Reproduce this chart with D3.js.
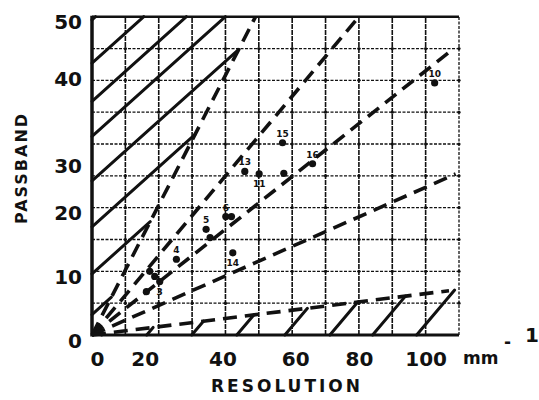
<!DOCTYPE html>
<html>
<head>
<meta charset="utf-8">
<script src="https://cdn.jsdelivr.net/npm/d3@7"></script>
<style>
  body { margin: 0; background: #fff; }
  text { font-family: "DejaVu Sans", sans-serif; font-weight: bold; fill: #111; }
</style>
</head>
<body>
<div class="canvas"></div>
<script>
// tick labels
const xTicks = [0, 20, 40, 60, 80, 100];
const yTicks = [0, 10, 20, 30, 40, 50];
const xGrid = [10, 20, 30, 40, 50, 60, 70, 80, 90, 100];
const yGrid = [5, 10, 15, 20, 25, 30, 35, 40, 45];

// dashed lines through the origin: slope and where each one stops (resolution)
const dashSlopes = [1.02, 0.625, 0.415, 0.232, 0.065];
const dashEnds = [49, 80, 108, 109, 107];

// solid hatching, upper left (passband intercepts) and lower right (resolution starts)
const upperHatch = [49.5, 42.7, 36.7, 31.2, 24.2, 17.0, 9.6, 3.2];
const upperSlope = 0.47;
const lowerHatch = [2.9, 16.4, 29.9, 43.4, 57.8, 71.3, 84.1, 97.3];
const lowerSlope = 0.62;

// measured points
const pointRes = [102.7, 57.1, 66.1, 45.8, 50.1, 57.5, 40.1, 41.8, 42.2, 34.2, 35.4, 25.3, 17.3, 18.8, 20.3, 16.3];
const pointPass = [39.6, 30.2, 26.9, 25.7, 25.3, 25.4, 18.6, 18.6, 12.9, 16.6, 15.3, 11.9, 10.0, 9.2, 8.4, 6.8];
const pointLabels = ['10', '15', '16', '13', '11', '', '6', '', '14', '5', '', '4', '', '', '3', ''];

const width = 539, height = 400;
const margin = { top: 16.7, right: 80, bottom: 65, left: 92 };

const svg = d3.select('.canvas')
  .append('svg')
  .attr('width', width)
  .attr('height', height);

const x = d3.scaleLinear().domain([0, 110]).range([margin.left, width - margin.right]);
const y = d3.scaleLinear().domain([0, 50]).range([height - margin.bottom, margin.top]);

const ink = '#111';

// grid
const grid = svg.append('g');
grid.selectAll('.vg')
  .data(xGrid)
  .enter().append('line')
  .attr('x1', d => x(d)).attr('x2', d => x(d))
  .attr('y1', y(0)).attr('y2', y(50))
  .attr('stroke', ink)
  .attr('stroke-width', 1.6)
  .attr('stroke-dasharray', '5,1');

grid.selectAll('.hg')
  .data(yGrid)
  .enter().append('line')
  .attr('x1', x(0)).attr('x2', x(110))
  .attr('y1', d => y(d)).attr('y2', d => y(d))
  .attr('stroke', ink)
  .attr('stroke-width', 1.3)
  .attr('stroke-dasharray', '3,1.5');

// little crosses at grid intersections
const nodes = [];
xGrid.concat([110]).forEach(a => yGrid.forEach(b => nodes.push([a, b])));
grid.selectAll('.node')
  .data(nodes)
  .enter().append('circle')
  .attr('cx', d => x(d[0])).attr('cy', d => y(d[1]))
  .attr('r', 1.6)
  .attr('fill', ink);

// frame
svg.append('line')
  .attr('x1', x(110)).attr('x2', x(110)).attr('y1', y(0)).attr('y2', y(50))
  .attr('stroke', ink).attr('stroke-width', 1.3).attr('stroke-dasharray', '3,1.5');
svg.append('line')
  .attr('x1', x(0)).attr('x2', x(110)).attr('y1', y(50)).attr('y2', y(50))
  .attr('stroke', ink).attr('stroke-width', 2.5);
svg.append('line')
  .attr('x1', x(0)).attr('x2', x(110)).attr('y1', y(0)).attr('y2', y(0))
  .attr('stroke', ink).attr('stroke-width', 3.2);
svg.append('line')
  .attr('x1', x(0)).attr('x2', x(0)).attr('y1', y(0) + 1.5).attr('y2', y(50) - 1)
  .attr('stroke', ink).attr('stroke-width', 3.5);

// upper hatching, stopped by the top edge or the steepest dashed line
const steep = dashSlopes[0];
const hatch = svg.append('g')
  .attr('stroke', ink)
  .attr('stroke-width', 3)
  .attr('stroke-linecap', 'round');

const upperEnd = c => Math.min((50 - c) / upperSlope, c / (steep - upperSlope));
hatch.selectAll('.uh')
  .data(upperHatch)
  .enter().append('line')
  .attr('x1', x(0))
  .attr('y1', d => y(d))
  .attr('x2', d => x(upperEnd(d)))
  .attr('y2', d => y(d + upperSlope * upperEnd(d)));

// lower hatching, stopped by the flattest dashed line
const flat = dashSlopes[dashSlopes.length - 1];
const lowerEnd = s => lowerSlope * s / (lowerSlope - flat);
hatch.selectAll('.lh')
  .data(lowerHatch)
  .enter().append('line')
  .attr('x1', d => x(d))
  .attr('y1', y(0))
  .attr('x2', d => x(lowerEnd(d)))
  .attr('y2', d => y(flat * lowerEnd(d)));

// dashed lines
const line = d3.line().x(d => x(d[0])).y(d => y(d[1]));
svg.append('g')
  .selectAll('path')
  .data(dashSlopes.map((s, i) => [[0, 0], [dashEnds[i], s * dashEnds[i]]]))
  .enter().append('path')
  .attr('d', line)
  .attr('fill', 'none')
  .attr('stroke', ink)
  .attr('stroke-width', 3.6)
  .attr('stroke-dasharray', '14,8');

// points
const pts = svg.append('g');
pts.selectAll('circle')
  .data(pointRes)
  .enter().append('circle')
  .attr('cx', d => x(d))
  .attr('cy', (d, i) => y(pointPass[i]))
  .attr('r', 3.6)
  .attr('fill', ink);

const below = ['11', '14', '3'];
pts.selectAll('text')
  .data(pointLabels)
  .enter().append('text')
  .attr('x', (d, i) => x(pointRes[i]))
  .attr('y', (d, i) => y(pointPass[i]) + (below.includes(d) ? 13 : -6))
  .attr('text-anchor', 'middle')
  .style('font-size', '9px')
  .text(d => d);

// axes, labels only
const yNudge = { 30: 16, 40: -7 };
const yAxis = svg.append('g')
  .attr('transform', `translate(${x(0)},0)`)
  .call(d3.axisLeft(y).tickValues(yTicks).tickSize(0).tickPadding(10));
yAxis.select('.domain').remove();
yAxis.selectAll('text')
  .attr('dy', d => (12 + (yNudge[d] || 0)) + 'px')
  .style('font-size', '20px')
  .style('font-family', '"DejaVu Sans", sans-serif')
  .style('font-weight', 'bold')
  .attr('fill', ink);

const xNudge = { 0: 5, 20: -14, 40: -3, 60: 3 };
const xAxis = svg.append('g')
  .attr('transform', `translate(0,${y(0)})`)
  .call(d3.axisBottom(x).tickValues(xTicks).tickSize(0).tickPadding(0));
xAxis.select('.domain').remove();
xAxis.selectAll('text')
  .attr('y', 31)
  .attr('dy', 0)
  .attr('dx', d => (xNudge[d] || 0) + 'px')
  .style('font-size', '20px')
  .style('font-family', '"DejaVu Sans", sans-serif')
  .style('font-weight', 'bold')
  .attr('fill', ink);

// unit
svg.append('text')
  .attr('x', 463)
  .attr('y', 364)
  .style('font-size', '17px')
  .text('mm');
svg.append('text')
  .attr('x', 504)
  .attr('y', 348)
  .style('font-size', '17px')
  .text('-');
svg.append('text')
  .attr('x', 525)
  .attr('y', 342)
  .style('font-size', '20px')
  .text('1');

// axis titles
svg.append('text')
  .attr('x', 287)
  .attr('y', 392)
  .attr('text-anchor', 'middle')
  .style('font-size', '17px')
  .style('letter-spacing', '3px')
  .text('RESOLUTION');

svg.append('text')
  .attr('transform', 'translate(27,168) rotate(-90)')
  .attr('text-anchor', 'middle')
  .style('font-size', '16px')
  .style('letter-spacing', '2px')
  .text('PASSBAND');
</script>
</body>
</html>
